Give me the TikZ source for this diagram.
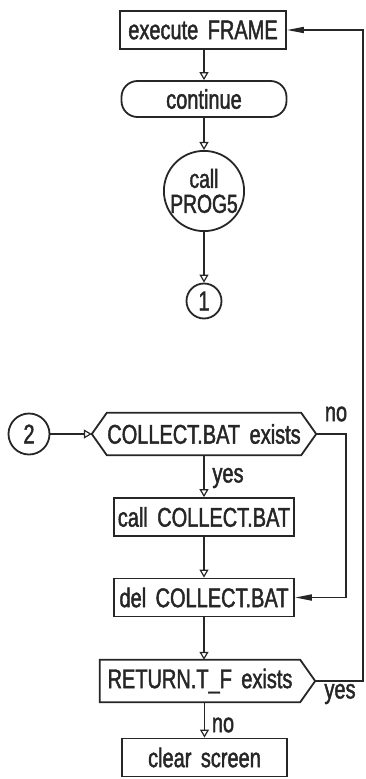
\documentclass[tikz,border=0pt]{standalone}
\usepackage{fontspec}
\setmainfont[FakeStretch=0.74, WordSpace=1.7, FakeBold=1.6]{Liberation Sans}
\usetikzlibrary{arrows.meta}
\definecolor{ink}{HTML}{262626}
\tikzset{
  txt/.style={font=\fontsize{27}{29}\selectfont, text=ink},
  flow/.style={txt, draw=ink, line width=1.8pt, inner sep=0pt},
  procbox/.style={flow, rectangle, minimum height=38pt},
  term/.style={flow, rectangle, rounded corners=16pt, minimum height=36pt, minimum width=165pt},
  conn/.style={flow, circle},
  decbody/.style={txt, rectangle, inner sep=0pt, minimum height=42pt},
  link/.style={draw=ink, line width=1.8pt},
  down/.style={link, -{Triangle[open, length=8pt, width=9pt, line width=1.2pt]}},
  back/.style={link, -{Triangle[length=17pt, width=6pt]}},
  lbl/.style={txt}
}
\begin{document}
\begin{tikzpicture}[x=1pt, y=-1pt]
\useasboundingbox[fill=white] (0,0) rectangle (365,779);

% upper part
\node[procbox, minimum width=166pt] (frame) at (203,30) {execute FRAME};
\node[term] (cont) at (204,99) {continue};
\node[conn, minimum size=76pt, align=center, font=\fontsize{26}{25}\selectfont] (prog) at (204,191) {call\\PROG5};
\node[conn, minimum size=35pt] (one) at (204,301) {1};

\draw[down] (frame.south -| cont.north) -- (cont.north);
\draw[down] (cont) -- (prog);
\draw[down] (prog) -- (one);

% lower part
\node[conn, minimum size=41pt] (two) at (29,434) {2};

% decision: COLLECT.BAT exists (hexagon)
\node[decbody, minimum width=194pt] (q1) at (204,434) {COLLECT.BAT exists};
\coordinate (q1w) at ([xshift=-15pt]q1.west);
\coordinate (q1e) at ([xshift=15pt]q1.east);
\draw[link, line join=miter] (q1w) -- (q1.north west) -- (q1.north east) -- (q1e)
  -- (q1.south east) -- (q1.south west) -- cycle;

\node[procbox, minimum width=180pt] (callc) at (204,517) {call COLLECT.BAT};
\node[procbox, minimum width=180pt] (delc) at (204,597.5) {del COLLECT.BAT};

% decision: RETURN.T_F exists (pointed to the right)
\node[decbody, minimum width=200pt] (q2) at (200,681) {RETURN.T\_F exists};
\coordinate (q2e) at ([xshift=15pt]q2.east);
\draw[link, line join=miter] (q2.north west) -- (q2.north east) -- (q2e)
  -- (q2.south east) -- (q2.south west) -- cycle;

\node[procbox, minimum width=165pt] (clear) at (204.5,757.5) {clear screen};

\coordinate (rail) at (363,0);
\coordinate (nocol) at (346,0);

\draw[down] (two) -- (q1w);
\draw[down] (q1.south -| callc.north) -- (callc.north);
\node[lbl] (yes1) at (228,478) {yes};
\draw[down] (callc) -- (delc);
\draw[back] (q1e) -- (q1e -| nocol) |- (delc.east);
\node[lbl] (no1) at (336,414) {no};
\draw[down] (delc.south) -- (delc.south |- q2.north);
\draw[back] (q2e) -- (q2e -| rail) |- (frame.east);
\node[lbl] (yes2) at (340,694) {yes};
\draw[down] (clear.north |- q2.south) -- (clear.north);
\node[lbl] (no2) at (223,725) {no};
\end{tikzpicture}
\end{document}
